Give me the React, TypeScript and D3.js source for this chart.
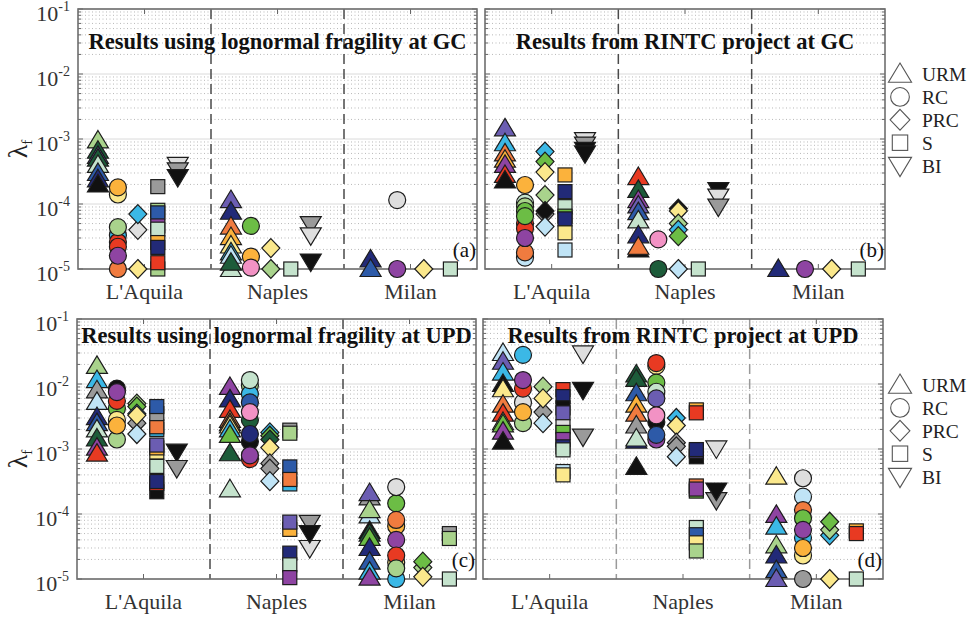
import React from "react";
import * as d3 from "d3";

type Row = [number, string, string, number]; // [city index, typology, colour key, lambda_f]

const cities = ["L'Aquila", "Naples", "Milan"];
const typologies = ["URM", "RC", "PRC", "S", "BI"];
const decadeTicks = [1e-5, 1e-4, 1e-3, 1e-2, 1e-1];
const decadeExponents = ["-5", "-4", "-3", "-2", "-1"];
const titles = [
  "Results using lognormal fragility at GC",
  "Results from RINTC project at GC",
  "Results using lognormal fragility at UPD",
  "Results from RINTC project at UPD",
];
const letters = ["(a)", "(b)", "(c)", "(d)"];

const palette: Record<string, string> = {
  LG: "#a9d38c",
  GN: "#6cbd45",
  DG: "#1d5c3a",
  PU: "#6b5db2",
  NV: "#222a78",
  BL: "#2d5aa8",
  LB: "#c0e4f6",
  CY: "#3bb8e6",
  OR: "#f07b3f",
  YO: "#fbb23c",
  PY: "#fbe88c",
  RD: "#e83a22",
  MG: "#8e44a2",
  PK: "#f292c4",
  MT: "#c5e3cd",
  GR: "#9a9a9a",
  LGR: "#dedede",
  BK: "#111111",
};

// (a) lognormal fragility, GC
const panelA: Row[] = [
  [0, "URM", "LG", 9.5e-4], [0, "URM", "DG", 6.6e-4], [0, "URM", "PU", 5.5e-4], [0, "URM", "DG", 5e-4],
  [0, "URM", "MT", 4e-4], [0, "URM", "BL", 3e-4], [0, "URM", "NV", 2.4e-4], [0, "URM", "BK", 2e-4],
  [0, "RC", "OR", 1e-5], [0, "RC", "CY", 3.3e-5], [0, "RC", "RD", 2.6e-5], [0, "RC", "RD", 2.2e-5],
  [0, "RC", "MG", 1.6e-5], [0, "RC", "LG", 4.4e-5], [0, "RC", "PY", 1.4e-4], [0, "RC", "YO", 1.8e-4],
  [0, "PRC", "PY", 1e-5], [0, "PRC", "LGR", 4e-5], [0, "PRC", "CY", 7e-5],
  [0, "S", "GR", 1.85e-4], [0, "S", "LG", 8e-5], [0, "S", "BL", 7.3e-5], [0, "S", "MG", 4.6e-5],
  [0, "S", "MT", 4.1e-5], [0, "S", "YO", 2.55e-5], [0, "S", "NV", 2.15e-5], [0, "S", "LG", 1e-5], [0, "S", "RD", 1.25e-5],
  [0, "BI", "LGR", 4e-4], [0, "BI", "GR", 3.3e-4], [0, "BI", "BK", 2.6e-4],
  [1, "URM", "PU", 1.15e-4], [1, "URM", "NV", 7.6e-5], [1, "URM", "OR", 4.5e-5], [1, "URM", "YO", 3.1e-5],
  [1, "URM", "PY", 2.3e-5], [1, "URM", "CY", 1.8e-5], [1, "URM", "LB", 1.6e-5], [1, "URM", "MT", 1e-5], [1, "URM", "DG", 1.25e-5],
  [1, "RC", "GN", 4.6e-5], [1, "RC", "YO", 1.55e-5], [1, "RC", "PK", 1.05e-5],
  [1, "PRC", "PY", 2.1e-5], [1, "PRC", "LG", 1e-5],
  [1, "S", "MT", 1e-5],
  [1, "BI", "GR", 4.9e-5], [1, "BI", "LGR", 3.3e-5], [1, "BI", "BK", 1.3e-5],
  [2, "URM", "NV", 1.4e-5], [2, "URM", "BL", 1e-5],
  [2, "RC", "LGR", 1.15e-4], [2, "RC", "MG", 1e-5],
  [2, "PRC", "PY", 1e-5],
  [2, "S", "MT", 1e-5],
];

// (b) RINTC project, GC
const panelB: Row[] = [
  [0, "URM", "PU", 1.46e-3], [0, "URM", "CY", 8.6e-4], [0, "URM", "OR", 6e-4], [0, "URM", "YO", 4.8e-4],
  [0, "URM", "MG", 4e-4], [0, "URM", "RD", 2.8e-4], [0, "URM", "BK", 2.3e-4],
  [0, "RC", "LB", 1.5e-5], [0, "RC", "OR", 1.8e-5], [0, "RC", "RD", 5e-5], [0, "RC", "RD", 4.2e-5],
  [0, "RC", "MG", 3e-5], [0, "RC", "MT", 1.05e-4], [0, "RC", "LG", 9.2e-5], [0, "RC", "GN", 7.8e-5],
  [0, "RC", "GN", 6.5e-5], [0, "RC", "YO", 1.96e-4],
  [0, "PRC", "CY", 6.4e-4], [0, "PRC", "GN", 4.5e-4], [0, "PRC", "PY", 3.1e-4], [0, "PRC", "LG", 1.37e-4],
  [0, "PRC", "GR", 7e-5], [0, "PRC", "BK", 7.8e-5], [0, "PRC", "LB", 4.5e-5],
  [0, "S", "YO", 2.8e-4], [0, "S", "NV", 1.55e-4], [0, "S", "MT", 9.1e-5], [0, "S", "GN", 6.5e-5],
  [0, "S", "NV", 5.9e-5], [0, "S", "PY", 3.6e-5], [0, "S", "LB", 1.96e-5],
  [0, "BI", "LGR", 9.6e-4], [0, "BI", "GR", 8.2e-4], [0, "BI", "BK", 6.8e-4], [0, "BI", "BK", 6e-4],
  [1, "URM", "RD", 2.6e-4], [1, "URM", "DG", 1.65e-4], [1, "URM", "MG", 1.15e-4], [1, "URM", "PU", 9.5e-5],
  [1, "URM", "BL", 7.5e-5], [1, "URM", "MT", 5.6e-5], [1, "URM", "NV", 3.3e-5], [1, "URM", "BK", 2e-5], [1, "URM", "OR", 2.2e-5],
  [1, "RC", "PK", 2.85e-5], [1, "RC", "DG", 1e-5],
  [1, "PRC", "BK", 8.5e-5], [1, "PRC", "PY", 7.8e-5], [1, "PRC", "LG", 5e-5], [1, "PRC", "CY", 4e-5],
  [1, "PRC", "GN", 3.2e-5], [1, "PRC", "LB", 1e-5],
  [1, "S", "MT", 1e-5],
  [1, "BI", "BK", 1.64e-4], [1, "BI", "LGR", 1.3e-4], [1, "BI", "GR", 9.1e-5],
  [2, "URM", "NV", 1e-5],
  [2, "RC", "MG", 1e-5],
  [2, "PRC", "PY", 1e-5],
  [2, "S", "MT", 1e-5],
];

// (c) lognormal fragility, UPD
const panelC: Row[] = [
  [0, "URM", "LG", 1.9e-2], [0, "URM", "CY", 1.15e-2], [0, "URM", "GR", 8e-3], [0, "URM", "LB", 5.3e-3],
  [0, "URM", "NV", 3.1e-3], [0, "URM", "BL", 2.5e-3], [0, "URM", "MT", 2e-3], [0, "URM", "DG", 1.45e-3],
  [0, "URM", "MG", 1.05e-3], [0, "URM", "RD", 8.5e-4],
  [0, "RC", "LG", 1.4e-3], [0, "RC", "GN", 4.2e-3], [0, "RC", "RD", 5.5e-3], [0, "RC", "BK", 8.5e-3],
  [0, "RC", "MG", 7.5e-3], [0, "RC", "PY", 2.8e-3], [0, "RC", "YO", 2.3e-3],
  [0, "PRC", "LG", 5e-3], [0, "PRC", "GN", 4.5e-3], [0, "PRC", "CY", 3.5e-3], [0, "PRC", "GR", 2.5e-3],
  [0, "PRC", "PY", 3.3e-3], [0, "PRC", "LB", 1.7e-3],
  [0, "S", "BK", 2.2e-4], [0, "S", "RD", 2.95e-4], [0, "S", "NV", 3.16e-4], [0, "S", "MT", 5.4e-4],
  [0, "S", "PY", 9e-4], [0, "S", "YO", 1.04e-3], [0, "S", "PU", 1.15e-3], [0, "S", "CY", 2e-3],
  [0, "S", "OR", 2.2e-3], [0, "S", "GR", 3.5e-3], [0, "S", "BL", 4.5e-3],
  [0, "BI", "BK", 9.1e-4], [0, "BI", "GR", 5.1e-4],
  [1, "URM", "MG", 9e-3], [1, "URM", "NV", 5.8e-3], [1, "URM", "RD", 4e-3], [1, "URM", "OR", 2.8e-3],
  [1, "URM", "YO", 2.5e-3], [1, "URM", "PY", 2.3e-3], [1, "URM", "CY", 2e-3], [1, "URM", "GN", 1.65e-3],
  [1, "URM", "DG", 8.6e-4], [1, "URM", "MT", 2.4e-4],
  [1, "RC", "LG", 9.5e-3], [1, "RC", "CY", 7e-3], [1, "RC", "BL", 5.2e-3], [1, "RC", "DG", 2.8e-3],
  [1, "RC", "PK", 3.7e-3], [1, "RC", "BK", 1.3e-3], [1, "RC", "NV", 1.7e-3], [1, "RC", "RD", 7e-4],
  [1, "RC", "MG", 8e-4], [1, "RC", "MT", 1.15e-2],
  [1, "PRC", "CY", 1.8e-3], [1, "PRC", "GN", 1.6e-3], [1, "PRC", "DG", 1.4e-3], [1, "PRC", "PY", 1.05e-3],
  [1, "PRC", "GR", 6e-4], [1, "PRC", "GR", 5e-4], [1, "PRC", "LB", 3.2e-4],
  [1, "S", "GR", 1.95e-3], [1, "S", "LG", 1.75e-3], [1, "S", "CY", 2.9e-4], [1, "S", "BL", 5.3e-4],
  [1, "S", "OR", 3.4e-4], [1, "S", "YO", 5.8e-5], [1, "S", "PU", 7.5e-5], [1, "S", "NV", 2.5e-5],
  [1, "S", "MT", 1.65e-5], [1, "S", "MG", 1.05e-5],
  [1, "BI", "GR", 7.3e-5], [1, "BI", "LGR", 3e-5], [1, "BI", "BK", 5.1e-5],
  [2, "URM", "GR", 1.8e-4], [2, "URM", "PU", 2.1e-4], [2, "URM", "LB", 9.5e-5], [2, "URM", "LG", 1.15e-4],
  [2, "URM", "BK", 5.5e-5], [2, "URM", "DG", 5e-5], [2, "URM", "GN", 4.3e-5], [2, "URM", "NV", 3e-5],
  [2, "URM", "BL", 1.85e-5], [2, "URM", "CY", 1.3e-5], [2, "URM", "MG", 1.05e-5],
  [2, "RC", "GN", 1.46e-4], [2, "RC", "LGR", 2.6e-4], [2, "RC", "YO", 6.5e-5], [2, "RC", "OR", 8.1e-5],
  [2, "RC", "MG", 4e-5], [2, "RC", "PY", 1.8e-5], [2, "RC", "RD", 2.3e-5], [2, "RC", "CY", 1e-5], [2, "RC", "LG", 1.46e-5],
  [2, "PRC", "LG", 1.5e-5], [2, "PRC", "GN", 1.85e-5], [2, "PRC", "PY", 1.08e-5],
  [2, "S", "GR", 5e-5], [2, "S", "LG", 4.2e-5], [2, "S", "MT", 1e-5],
];

// (d) RINTC project, UPD
const panelD: Row[] = [
  [0, "URM", "LB", 3e-2], [0, "URM", "PU", 2.2e-2], [0, "URM", "CY", 1.5e-2], [0, "URM", "BK", 1e-2],
  [0, "URM", "PY", 8.3e-3], [0, "URM", "OR", 4.8e-3], [0, "URM", "RD", 3.5e-3], [0, "URM", "LG", 2.6e-3],
  [0, "URM", "GN", 2.4e-3], [0, "URM", "MG", 1.85e-3], [0, "URM", "BK", 1.3e-3],
  [0, "RC", "LG", 2.5e-3], [0, "RC", "LGR", 5.2e-3], [0, "RC", "YO", 3.7e-3], [0, "RC", "RD", 8.5e-3],
  [0, "RC", "MG", 1.15e-2], [0, "RC", "CY", 2.8e-2],
  [0, "PRC", "LG", 9.1e-3], [0, "PRC", "GR", 3.7e-3], [0, "PRC", "PY", 6e-3], [0, "PRC", "LB", 2.5e-3],
  [0, "S", "RD", 8.2e-3], [0, "S", "NV", 6.4e-3], [0, "S", "BK", 4.3e-3], [0, "S", "PU", 3.6e-3],
  [0, "S", "LGR", 2.2e-3], [0, "S", "GN", 1.8e-3], [0, "S", "MG", 1.4e-3], [0, "S", "NV", 1.08e-3],
  [0, "S", "MT", 9.7e-4], [0, "S", "LB", 4.5e-4], [0, "S", "PY", 4e-4],
  [0, "BI", "LGR", 2.95e-2], [0, "BI", "BK", 8.1e-3], [0, "BI", "GR", 1.55e-3],
  [1, "URM", "DG", 1.4e-2], [1, "URM", "DG", 1.2e-2], [1, "URM", "BL", 7.2e-3], [1, "URM", "YO", 4.8e-3],
  [1, "URM", "OR", 3.5e-3], [1, "URM", "GR", 2.3e-3], [1, "URM", "NV", 1.35e-3], [1, "URM", "MT", 1.45e-3],
  [1, "URM", "BK", 5.3e-4],
  [1, "RC", "PY", 1.9e-2], [1, "RC", "RD", 2.1e-2], [1, "RC", "GN", 1.05e-2], [1, "RC", "MT", 7.6e-3],
  [1, "RC", "PU", 6e-3], [1, "RC", "BK", 2.6e-3], [1, "RC", "PK", 3.3e-3], [1, "RC", "MG", 1.4e-3], [1, "RC", "BL", 1.65e-3],
  [1, "PRC", "CY", 3e-3], [1, "PRC", "PY", 2.3e-3], [1, "PRC", "GR", 1.25e-3], [1, "PRC", "GR", 1.1e-3],
  [1, "PRC", "LB", 7.6e-4],
  [1, "S", "YO", 4e-3], [1, "S", "RD", 3.6e-3], [1, "S", "BK", 7.6e-4], [1, "S", "PU", 9.3e-4],
  [1, "S", "NV", 9.8e-4], [1, "S", "OR", 2.7e-4], [1, "S", "GN", 2.25e-4], [1, "S", "MG", 2.42e-4],
  [1, "S", "MT", 6.2e-5], [1, "S", "BL", 4.8e-5], [1, "S", "PY", 3.6e-5], [1, "S", "LG", 2.7e-5],
  [1, "BI", "LGR", 1.02e-3], [1, "BI", "GR", 1.64e-4], [1, "BI", "BK", 2.3e-4],
  [2, "URM", "PY", 3.75e-4], [2, "URM", "MG", 9.7e-5], [2, "URM", "CY", 6.4e-5], [2, "URM", "LG", 3.3e-5],
  [2, "URM", "NV", 2.3e-5], [2, "URM", "BL", 1.37e-5], [2, "URM", "PU", 1e-5],
  [2, "RC", "LGR", 3.55e-4], [2, "RC", "LB", 1.85e-4], [2, "RC", "OR", 1.15e-4], [2, "RC", "GN", 8.6e-5],
  [2, "RC", "CY", 4.3e-5], [2, "RC", "MG", 5.7e-5], [2, "RC", "PY", 2.3e-5], [2, "RC", "YO", 3e-5], [2, "RC", "GR", 1e-5],
  [2, "PRC", "CY", 4.7e-5], [2, "PRC", "LG", 5.7e-5], [2, "PRC", "GN", 7.6e-5], [2, "PRC", "PY", 1e-5],
  [2, "S", "YO", 5.5e-5], [2, "S", "RD", 5e-5], [2, "S", "MT", 1e-5],
];

const panelData = [panelA, panelB, panelC, panelD];

// x offsets (in category units) of each typology inside a city group
const offsetsFive: Record<string, number> = { URM: -0.35, RC: -0.2, PRC: -0.05, S: 0.1, BI: 0.25 };
const offsetsFour: Record<string, number> = { URM: -0.3, RC: -0.1, PRC: 0.1, S: 0.3 };

const layout = [
  { l: 78, r: 477, t: 9, b: 269, yLabels: true, legendY: 0, dash: "#4a4a4a", titleY: 49 },
  { l: 485, r: 885, t: 9, b: 269, yLabels: false, legendY: 74, dash: "#4a4a4a", titleY: 49 },
  { l: 77, r: 476, t: 319, b: 579, yLabels: true, legendY: 0, dash: "#4a4a4a", titleY: 343 },
  { l: 483, r: 883, t: 319, b: 579, yLabels: false, legendY: 385, dash: "#9a9a9a", titleY: 343 },
];

const FONT = "'Liberation Serif', 'Times New Roman', serif";

function Marker(props: { type: string; cx: number; cy: number; fill: string; stroke?: string; sw?: number; s?: number }) {
  const { type, cx, cy, fill } = props;
  const stroke = props.stroke ?? "#1c1c1c";
  const sw = props.sw ?? 1.2;
  const s = props.s ?? 1;
  const common = { fill, stroke, strokeWidth: sw, strokeLinejoin: "miter" as const };
  if (type === "URM")
    return <polygon {...common} points={`${cx},${cy - 10 * s} ${cx + 10.5 * s},${cy + 7.5 * s} ${cx - 10.5 * s},${cy + 7.5 * s}`} />;
  if (type === "BI")
    return <polygon {...common} points={`${cx - 10.5 * s},${cy - 7.5 * s} ${cx + 10.5 * s},${cy - 7.5 * s} ${cx},${cy + 10 * s}`} />;
  if (type === "RC") return <circle {...common} cx={cx} cy={cy} r={8.5 * s} />;
  if (type === "PRC")
    return <polygon {...common} points={`${cx},${cy - 9.5 * s} ${cx + 9 * s},${cy} ${cx},${cy + 9.5 * s} ${cx - 9 * s},${cy}`} />;
  return <rect {...common} x={cx - 7 * s} y={cy - 7 * s} width={14 * s} height={14 * s} />;
}

function Panel({ idx }: { idx: number }) {
  const L = layout[idx];
  const data = panelData[idx];
  const x = d3.scaleLinear().domain([0.5, 3.5]).range([L.l, L.r]);
  const y = d3.scaleLog().domain([1e-5, 1e-1]).range([L.b, L.t]);
  const minor: number[] = [];
  decadeTicks.slice(0, 4).forEach((d) => {
    for (let k = 2; k <= 9; k++) minor.push(d * k);
  });
  const cx = (L.l + L.r) / 2;
  return (
    <g>
      <rect x={L.l} y={L.t} width={L.r - L.l} height={L.b - L.t} fill="#ffffff" />
      {minor.map((v, i) => (
        <line key={"mg" + i} x1={L.l} x2={L.r} y1={y(v)} y2={y(v)} stroke="#b8b8b8" strokeWidth={1} strokeDasharray="1,2.5" />
      ))}
      {decadeTicks.map((v, i) => (
        <line key={"Mg" + i} x1={L.l} x2={L.r} y1={y(v)} y2={y(v)} stroke="#dadada" strokeWidth={1} />
      ))}
      {[1.5, 2.5].map((v) => (
        <line key={"sep" + v} x1={x(v)} x2={x(v)} y1={L.t} y2={L.b} stroke={L.dash} strokeWidth={1.5} strokeDasharray="10,5" />
      ))}
      {minor.map((v, i) => (
        <g key={"mt" + i}>
          <line x1={L.l} x2={L.l + 3} y1={y(v)} y2={y(v)} stroke="#666" strokeWidth={1} />
          <line x1={L.r} x2={L.r - 3} y1={y(v)} y2={y(v)} stroke="#666" strokeWidth={1} />
        </g>
      ))}
      {decadeTicks.map((v, i) => (
        <g key={"Mt" + i}>
          <line x1={L.l} x2={L.l + 5} y1={y(v)} y2={y(v)} stroke="#666" strokeWidth={1} />
          <line x1={L.r} x2={L.r - 5} y1={y(v)} y2={y(v)} stroke="#666" strokeWidth={1} />
        </g>
      ))}
      {cities.map((c, i) => (
        <g key={"xt" + i}>
          <line x1={x(i + 1)} x2={x(i + 1)} y1={L.b} y2={L.b - 5} stroke="#666" strokeWidth={1} />
          <line x1={x(i + 1)} x2={x(i + 1)} y1={L.t} y2={L.t + 5} stroke="#666" strokeWidth={1} />
        </g>
      ))}
      <rect x={L.l} y={L.t} width={L.r - L.l} height={L.b - L.t} fill="none" stroke="#6e6e6e" strokeWidth={1.6} />
      {data.map((row, i) => {
        const [ci, type, col, val] = row;
        const off = ci === 2 ? offsetsFour[type] : offsetsFive[type];
        return <Marker key={"m" + i} type={type} cx={x(ci + 1 + off)} cy={y(val)} fill={palette[col]} />;
      })}
      <text x={cx} y={L.titleY} textAnchor="middle" fontFamily={FONT} fontWeight="bold" fontSize={22.5} fill="#111">
        {titles[idx]}
      </text>
      <text x={L.r - 1} y={L.b - 12} textAnchor="end" fontFamily={FONT} fontSize={21} fill="#111">
        {letters[idx]}
      </text>
      {cities.map((c, i) => (
        <text key={"xl" + i} x={x(i + 1)} y={L.b + 30} textAnchor="middle" fontFamily={FONT} fontSize={22} fill="#333">
          {c}
        </text>
      ))}
      {L.yLabels &&
        decadeTicks.map((v, i) => (
          <text key={"yl" + i} x={L.l - 8} y={y(v) + 12} textAnchor="end" fontFamily={FONT} fontSize={22} fill="#333">
            <tspan>10</tspan>
            <tspan dy={-10} fontSize={14}>
              {decadeExponents[i]}
            </tspan>
          </text>
        ))}
      {L.yLabels && (
        <text transform={`translate(27,${(L.t + L.b) / 2 + 10}) rotate(-90)`} textAnchor="middle" fontFamily={FONT} fontSize={28} fill="#222">
          λ
          <tspan fontSize={15} dy={5}>
            f
          </tspan>
        </text>
      )}
      {L.legendY > 0 &&
        typologies.map((t, i) => {
          const ly = L.legendY + i * 22.9;
          return (
            <g key={"lg" + t}>
              <Marker type={t} cx={900} cy={ly} fill="#ffffff" stroke="#555" sw={1.1} s={1.1} />
              <text x={922} y={ly + 7} fontFamily={FONT} fontSize={19.5} fill="#222">
                {t}
              </text>
            </g>
          );
        })}
    </g>
  );
}

export default function App() {
  return (
    <svg width={968} height={619} viewBox="0 0 968 619" style={{ position: "absolute", left: 0, top: 0, background: "#fff" }}>
      <rect x={0} y={0} width={968} height={619} fill="#ffffff" />
      {[0, 1, 2, 3].map((i) => (
        <Panel key={i} idx={i} />
      ))}
    </svg>
  );
}
